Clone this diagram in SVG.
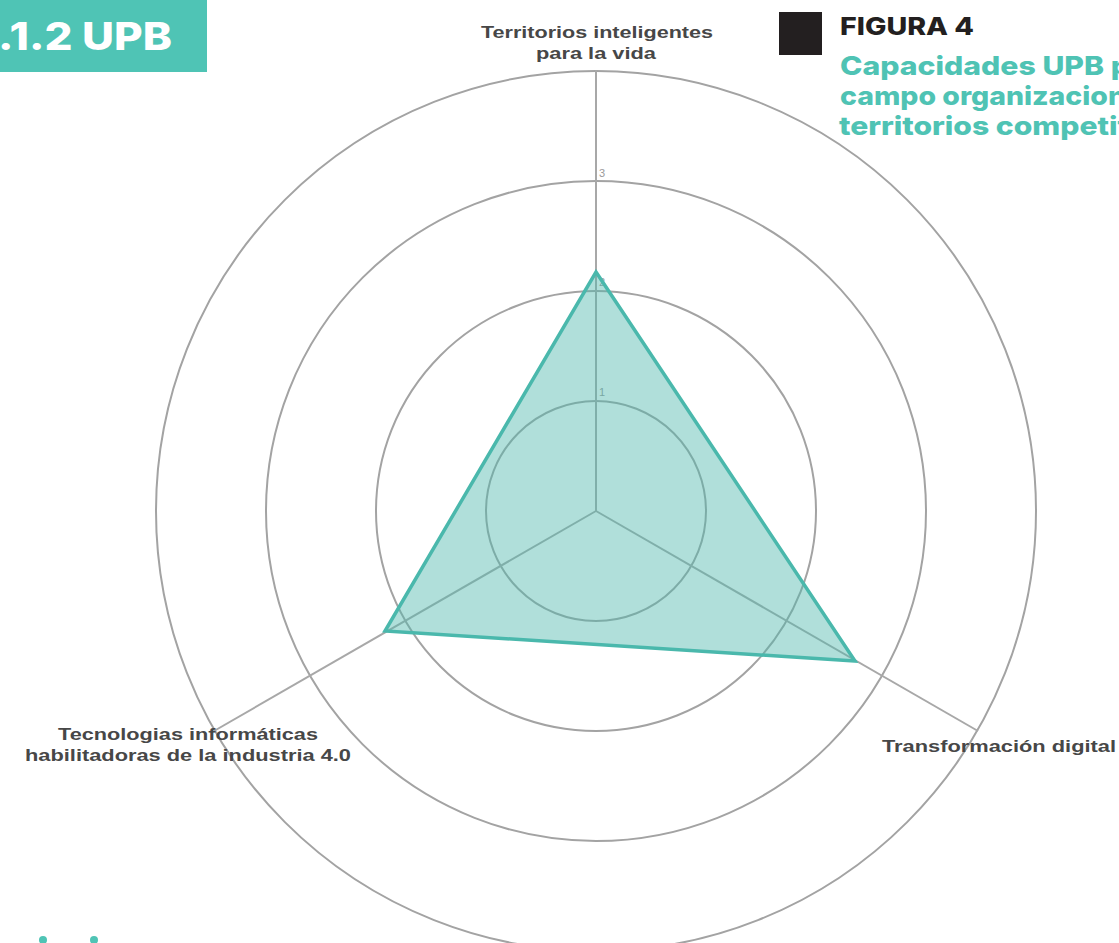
<svg xmlns="http://www.w3.org/2000/svg" width="1119" height="943" viewBox="0 0 1119 943">
<style>
.ring{fill:none;stroke:#a3a3a3;stroke-width:2}
.axis{stroke:#a8a8a8;stroke-width:2}
.lbl{font-family:"Liberation Sans",Arial,sans-serif;font-weight:bold;font-size:17px;fill:#474747;text-anchor:middle}
.tick{font-family:"Liberation Sans",Arial,sans-serif;font-size:11px;fill:#9a9a9a}
.title{font-family:"Inter","Liberation Sans",Arial,sans-serif;font-weight:800;font-size:26px;fill:#4fc3b4}
</style>
<rect width="1119" height="943" fill="#ffffff"/>
<g id="header">
<rect x="0" y="0" width="207" height="72" fill="#4fc4b5"/>
<text x="-2" y="50" font-family="Inter,'Liberation Sans',Arial,sans-serif" font-weight="800" font-size="38" fill="#ffffff" textLength="174" lengthAdjust="spacingAndGlyphs">.1.2 UPB</text>
</g>
<g id="figure-title">
<rect x="779" y="12" width="43" height="43" fill="#231f20"/>
<text x="840" y="35" font-family="Inter,'Liberation Sans',Arial,sans-serif" font-weight="800" font-size="24" fill="#231f20" textLength="134" lengthAdjust="spacingAndGlyphs">FIGURA 4</text>
<text class="title" x="840" y="75" textLength="290" lengthAdjust="spacingAndGlyphs">Capacidades UPB p</text>
<text class="title" x="840" y="105" textLength="286" lengthAdjust="spacingAndGlyphs">campo organizacion</text>
<text class="title" x="839" y="135" textLength="290" lengthAdjust="spacingAndGlyphs">territorios competit</text>
</g>
<g id="rings">
<circle class="ring" cx="596" cy="511" r="110"/>
<circle class="ring" cx="596" cy="511" r="220"/>
<circle class="ring" cx="596" cy="511" r="330"/>
<circle class="ring" cx="596" cy="511" r="440"/>
</g>
<g id="connectors">
<line class="axis" x1="596" y1="511" x2="596" y2="70"/>
<line class="axis" x1="596" y1="511" x2="978" y2="731"/>
<line class="axis" x1="596" y1="511" x2="214" y2="731"/>
</g>
<g id="ticks">
<text class="tick" x="599" y="177">3</text>
<text class="tick" x="599" y="286">2</text>
<text class="tick" x="599" y="396">1</text>
</g>
<g id="data">
<polygon points="596,272 855,661 385,631" fill="#4fb8ac" fill-opacity="0.45" stroke="#4ab8ac" stroke-width="3.5" stroke-linejoin="miter"/>
</g>
<g id="label-top">
<text class="lbl" x="597" y="38" textLength="232" lengthAdjust="spacingAndGlyphs">Territorios inteligentes</text>
<text class="lbl" x="596" y="59" textLength="120" lengthAdjust="spacingAndGlyphs">para la vida</text>
</g>
<g id="label-left">
<text class="lbl" x="188" y="740" textLength="260" lengthAdjust="spacingAndGlyphs">Tecnologias informáticas</text>
<text class="lbl" x="188" y="761" textLength="326" lengthAdjust="spacingAndGlyphs">habilitadoras de la industria 4.0</text>
</g>
<g id="label-right">
<text class="lbl" x="999" y="752" textLength="234" lengthAdjust="spacingAndGlyphs">Transformación digital</text>
</g>
<g id="footer-dots">
<circle cx="43" cy="940" r="4" fill="#4fc4b5"/>
<circle cx="94" cy="940" r="4" fill="#4fc4b5"/>
</g>
</svg>
